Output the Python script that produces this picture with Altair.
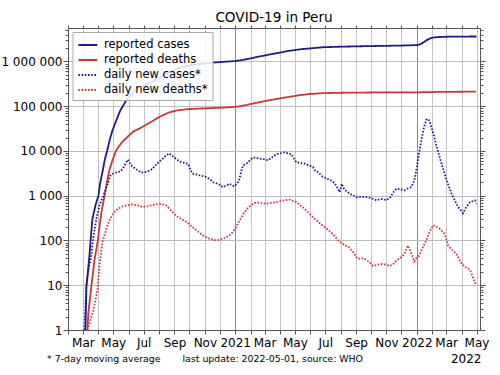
import altair as alt
import pandas as pd

series_names = ["reported cases", "reported deaths", "daily new cases*", "daily new deaths*"]
series_colors = ["#1c1c8c", "#cc3636", "#1c1c8c", "#cc3636"]

cases_dates = ["2020-03-06", "2020-03-08", "2020-03-11", "2020-03-14", "2020-03-17", "2020-03-20",
               "2020-03-26", "2020-04-01", "2020-04-05", "2020-04-10", "2020-04-14", "2020-04-19",
               "2020-04-24", "2020-04-29", "2020-05-07", "2020-05-15", "2020-05-27", "2020-06-10",
               "2020-06-25", "2020-07-13", "2020-08-01", "2020-08-15", "2020-09-01", "2020-09-17",
               "2020-10-01", "2020-10-20", "2020-11-05", "2020-11-21", "2020-12-10", "2021-01-01",
               "2021-01-15", "2021-02-01", "2021-02-15", "2021-03-01", "2021-03-15", "2021-04-01",
               "2021-04-15", "2021-05-01", "2021-05-15", "2021-06-01", "2021-06-26", "2021-08-01",
               "2021-09-01", "2021-10-01", "2021-11-01", "2021-12-01", "2021-12-31", "2022-01-07",
               "2022-01-14", "2022-01-21", "2022-01-28", "2022-02-05", "2022-02-15", "2022-03-01",
               "2022-04-01", "2022-05-01"]
cases_values = [1, 9, 20, 45, 120, 300,
                600, 1000, 2000, 3700, 6500, 10400,
                18000, 28000, 48000, 80000, 135000, 210000,
                270000, 330000, 420000, 530000, 650000, 750000,
                810000, 870000, 910000, 950000, 985000, 1020000,
                1080000, 1170000, 1270000, 1360000, 1460000, 1580000,
                1700000, 1800000, 1890000, 1960000, 2080000, 2140000,
                2180000, 2210000, 2240000, 2270000, 2320000, 2400000,
                2650000, 3000000, 3300000, 3450000, 3520000, 3570000,
                3600000, 3620000]

deaths_dates = ["2020-03-10", "2020-03-12", "2020-03-17", "2020-03-24", "2020-03-31", "2020-04-04",
                "2020-04-08", "2020-04-13", "2020-04-18", "2020-04-23", "2020-04-30", "2020-05-07",
                "2020-05-17", "2020-05-27", "2020-06-10", "2020-06-23", "2020-07-10", "2020-08-02",
                "2020-08-20", "2020-09-04", "2020-09-25", "2020-10-15", "2020-11-15", "2020-12-15",
                "2021-01-10", "2021-02-01", "2021-03-01", "2021-04-01", "2021-05-11", "2021-06-01",
                "2021-06-26", "2021-08-01", "2021-10-01", "2022-01-07", "2022-02-15", "2022-04-30"]
deaths_values = [1, 2.5, 7.6, 35, 100, 237,
                 480, 930, 1900, 3700, 6500, 10400,
                 15000, 19500, 27000, 32000, 41000, 58000,
                 72000, 80000, 85500, 88000, 91000, 94000,
                 99000, 112000, 130000, 150000, 177000, 188000,
                 196000, 200000, 203000, 205000, 209000, 212000]

daily_cases_dates = ["2020-03-04", "2020-03-08", "2020-03-13", "2020-03-17", "2020-03-22", "2020-03-28",
                     "2020-04-03", "2020-04-10", "2020-04-20", "2020-04-25", "2020-04-30", "2020-05-06",
                     "2020-05-12", "2020-05-17", "2020-05-22", "2020-05-30", "2020-06-06", "2020-06-12",
                     "2020-06-19", "2020-06-26", "2020-07-06", "2020-07-12", "2020-07-19", "2020-07-28",
                     "2020-08-08", "2020-08-15", "2020-08-22", "2020-08-29", "2020-09-08", "2020-09-15",
                     "2020-09-28", "2020-10-03", "2020-10-08", "2020-10-15", "2020-10-22", "2020-10-28",
                     "2020-11-04", "2020-11-12", "2020-11-18", "2020-11-24", "2020-12-01", "2020-12-07",
                     "2020-12-14", "2020-12-21", "2020-12-26", "2020-12-31", "2021-01-05", "2021-01-09",
                     "2021-01-13", "2021-01-17", "2021-01-22", "2021-01-27", "2021-02-01", "2021-02-06",
                     "2021-02-14", "2021-02-22", "2021-03-01", "2021-03-08", "2021-03-16", "2021-03-25",
                     "2021-04-02", "2021-04-10", "2021-04-17", "2021-04-24", "2021-04-28", "2021-05-04",
                     "2021-05-12", "2021-05-21", "2021-05-28", "2021-06-06", "2021-06-11", "2021-06-16",
                     "2021-06-21", "2021-06-26", "2021-07-05", "2021-07-13", "2021-07-20", "2021-07-27",
                     "2021-07-30", "2021-08-03", "2021-08-08", "2021-08-15", "2021-08-23", "2021-09-02",
                     "2021-09-12", "2021-09-22", "2021-10-02", "2021-10-12", "2021-10-22", "2021-11-01",
                     "2021-11-08", "2021-11-15", "2021-11-21", "2021-11-28", "2021-12-08", "2021-12-14",
                     "2021-12-21", "2021-12-27", "2021-12-31", "2022-01-05", "2022-01-10", "2022-01-15",
                     "2022-01-20", "2022-01-24", "2022-01-27", "2022-02-03", "2022-02-10", "2022-02-18",
                     "2022-02-26", "2022-03-04", "2022-03-12", "2022-03-18", "2022-03-25", "2022-04-04",
                     "2022-04-10", "2022-04-18", "2022-04-28", "2022-04-30"]
daily_cases_values = [1, 11, 25, 40, 120, 300,
                      600, 930, 1860, 2800, 3100, 3300,
                      3400, 3700, 4400, 6400, 4800, 4200,
                      3700, 3300, 3400, 3600, 4000, 5200,
                      6700, 8000, 8800, 7600, 6200, 5600,
                      5200, 3800, 3100, 3000, 2850, 2750,
                      2600, 2300, 2000, 1900, 1750, 1560,
                      1700, 1850, 1700, 1630, 1900, 2200,
                      3500, 4800, 5100, 5600, 6500, 7100,
                      6900, 6700, 6500, 6200, 7200, 8500,
                      8900, 9300, 8800, 8500, 7000, 5600,
                      5400, 5200, 4800, 4400, 3600, 3400,
                      3000, 2640, 2400, 2200, 1900, 1400,
                      1200, 1850, 1400, 1200, 1050, 930,
                      950, 930, 880, 790, 850, 800,
                      900, 1200, 1430, 1400, 1320, 1450,
                      1560, 2200, 3700, 8000, 17000, 32000,
                      50000, 52000, 45000, 25000, 12300, 6000,
                      3100, 1900, 1100, 800, 560, 410,
                      550, 720, 790, 670]

daily_deaths_dates = ["2020-03-10", "2020-03-15", "2020-03-21", "2020-03-26", "2020-03-31", "2020-04-03",
                      "2020-04-07", "2020-04-10", "2020-04-17", "2020-04-23", "2020-05-01", "2020-05-10",
                      "2020-05-18", "2020-05-27", "2020-06-09", "2020-06-20", "2020-06-29", "2020-07-08",
                      "2020-07-16", "2020-07-26", "2020-08-05", "2020-08-15", "2020-08-25", "2020-09-04",
                      "2020-09-15", "2020-09-25", "2020-10-05", "2020-10-15", "2020-10-28", "2020-11-10",
                      "2020-11-24", "2020-12-07", "2020-12-18", "2020-12-27", "2021-01-03", "2021-01-10",
                      "2021-01-18", "2021-01-27", "2021-02-05", "2021-02-13", "2021-02-22", "2021-03-05",
                      "2021-03-15", "2021-03-25", "2021-04-07", "2021-04-20", "2021-05-04", "2021-05-18",
                      "2021-05-31", "2021-06-12", "2021-06-26", "2021-07-06", "2021-07-16", "2021-07-29",
                      "2021-08-08", "2021-08-18", "2021-08-26", "2021-09-04", "2021-09-12", "2021-09-22",
                      "2021-10-01", "2021-10-05", "2021-10-15", "2021-10-25", "2021-11-08", "2021-11-15",
                      "2021-11-21", "2021-12-01", "2021-12-07", "2021-12-14", "2021-12-20", "2021-12-27",
                      "2022-01-01", "2022-01-06", "2022-01-13", "2022-01-20", "2022-01-27", "2022-02-03",
                      "2022-02-10", "2022-02-16", "2022-02-26", "2022-03-05", "2022-03-14", "2022-03-22",
                      "2022-04-01", "2022-04-10", "2022-04-18", "2022-04-26", "2022-04-30"]
daily_deaths_values = [1, 1.5, 2.5, 4.5, 9, 25,
                       60, 100, 180, 280, 400, 510,
                       570, 610, 640, 600, 560, 580,
                       610, 640, 660, 610, 470, 360,
                       300, 260, 210, 168, 130, 110,
                       100, 108, 125, 153, 200, 280,
                       400, 540, 650, 720, 690, 660,
                       690, 720, 780, 820, 720, 540,
                       390, 290, 215, 175, 140, 95,
                       80, 71, 55, 39, 40, 37,
                       30, 27, 29, 30, 27, 30,
                       36, 42, 50, 77, 55, 34,
                       42, 46, 70, 100, 160, 220,
                       200, 183, 140, 77, 60, 50,
                       30, 25, 22, 13, 10]

title_text = ["COVID-19 in Peru"]
note_left = ["* 7-day moving average"]
note_right = ["last update: 2022-05-01, source: WHO"]
end_year_label = ["2022"]
end_year_date = ["2022-05-01"]


def frame(name, dates, values):
    return pd.DataFrame({"date": dates, "value": values, "series": name})


df = pd.concat([
    frame(series_names[0], cases_dates, cases_values),
    frame(series_names[1], deaths_dates, deaths_values),
    frame(series_names[2], daily_cases_dates, daily_cases_values),
    frame(series_names[3], daily_deaths_dates, daily_deaths_values),
], ignore_index=True)

month_ticks = []
for yr in (2020, 2021, 2022):
    for mo in range(1, 13):
        if (yr == 2020 and mo < 2) or (yr == 2022 and mo > 5):
            continue
        month_ticks.append(alt.DateTime(year=yr, month=mo, date=1, utc=True))

y_ticks = [m * 10 ** k for k in range(0, 7) for m in range(1, 10) if m * 10 ** k <= 5.6e6]
MINOR = "abs(log(datum.value)/LN10 - round(log(datum.value)/LN10)) > 0.01"

x_scale = alt.Scale(type="utc", domain=[alt.DateTime(year=2020, month=1, date=31, utc=True),
                                         alt.DateTime(year=2022, month=5, date=8, utc=True)])
y_scale = alt.Scale(type="log", domain=[1, 5.6e6], nice=False)

x_label_expr = (
    "utcmonth(datum.value) == 0 ? utcFormat(datum.value, '%Y') : "
    "(utcmonth(datum.value) % 2 == 1 ? '' : utcFormat(datum.value, '%b'))"
)

axis_common = dict(domainColor="#555555", tickColor="#555555", labelColor="black",
                   labelFont="DejaVu Sans", labelFontSize=12, title=None)

x_axis_bottom = alt.Axis(values=month_ticks, labelExpr=x_label_expr, tickSize=4, labelPadding=3,
                         labelAngle=0, labelOverlap=False, labelFlush=False,
                         grid=True, gridWidth=1,
                         gridColor={"condition": {"test": "utcmonth(datum.value) == 0", "value": "#8a8a8a"},
                                    "value": "#c4c4c4"},
                         **axis_common)
x_axis_top = alt.Axis(values=month_ticks, orient="top", labels=False, tickSize=3, grid=False,
                      **axis_common)

y_axis_left = alt.Axis(values=y_ticks,
                       labelExpr=MINOR + " ? '' : replace(format(datum.value, ','), regexp(',', 'g'), ' ')",
                       tickSize={"condition": {"test": MINOR, "value": 3}, "value": 5},
                       labelPadding=1, grid=True, gridColor="#bdbdbd",
                       gridOpacity={"condition": {"test": MINOR, "value": 0}, "value": 1},
                       labelOverlap=False, **axis_common)
y_axis_right = alt.Axis(values=y_ticks, orient="right", labels=False,
                        tickSize={"condition": {"test": MINOR, "value": 3}, "value": 5},
                        grid=False, **axis_common)

legend_kw = dict(title=None, orient="none", legendX=4.5, legendY=4)

lines = alt.Chart(df).mark_line(strokeWidth=1.8, clip=True).encode(
    x=alt.X("date:T", scale=x_scale, axis=x_axis_bottom),
    y=alt.Y("value:Q", scale=y_scale, axis=y_axis_left),
    color=alt.Color("series:N", scale=alt.Scale(domain=series_names, range=series_colors),
                    legend=alt.Legend(**legend_kw)),
    strokeDash=alt.StrokeDash("series:N",
                              scale=alt.Scale(domain=series_names,
                                              range=[[1, 0], [1, 0], [1.6, 1.6], [1.6, 1.6]]),
                              legend=alt.Legend(**legend_kw)),
)

mirror = alt.Chart(df).mark_line(opacity=0, clip=True).encode(
    x=alt.X("date:T", scale=x_scale, axis=x_axis_top),
    y=alt.Y("value:Q", scale=y_scale, axis=y_axis_right),
    detail="series:N",
)

title_mark = alt.Chart(pd.DataFrame({"t": title_text})).mark_text(
    align="center", baseline="alphabetic", font="DejaVu Sans", fontSize=13.6, color="black"
).encode(x=alt.value(206), y=alt.value(-6.3), text="t:N")

year_mark = alt.Chart(pd.DataFrame({"date": end_year_date, "t": end_year_label})).mark_text(
    align="right", baseline="alphabetic", font="DejaVu Sans", fontSize=12, color="black", dx=5
).encode(x=alt.X("date:T", scale=x_scale, axis=None), y=alt.value(335), text="t:N")

foot_left = alt.Chart(pd.DataFrame({"note": note_left})).mark_text(
    align="left", baseline="alphabetic", font="DejaVu Sans", fontSize=9.4, color="black"
).encode(x=alt.value(-21), y=alt.value(333.5), text="note:N")

foot_right = alt.Chart(pd.DataFrame({"note": note_right})).mark_text(
    align="left", baseline="alphabetic", font="DejaVu Sans", fontSize=9.4, color="black"
).encode(x=alt.value(114.5), y=alt.value(333.5), text="note:N")

chart = alt.layer(lines, mirror, title_mark, year_mark, foot_left, foot_right).resolve_axis(
    x="independent", y="independent"
).properties(
    width=412, height=302,
    autosize=alt.AutoSizeParams(type="none"),
    padding={"left": 68, "top": 28, "right": 20, "bottom": 45},
    background="white",
).configure_view(
    stroke="#555555", strokeWidth=1
).configure_legend(
    symbolType="M-0.9,0H1.5", symbolSize=246, symbolStrokeWidth=2,
    labelFont="DejaVu Sans", labelFontSize=11.5, labelColor="black", labelOffset=9.5,
    fillColor="rgba(255,255,255,0.85)", strokeColor="#aaaaaa", padding=4, rowPadding=0,
)

chart.save("out.html", embed_options={"renderer": "svg", "actions": False})
